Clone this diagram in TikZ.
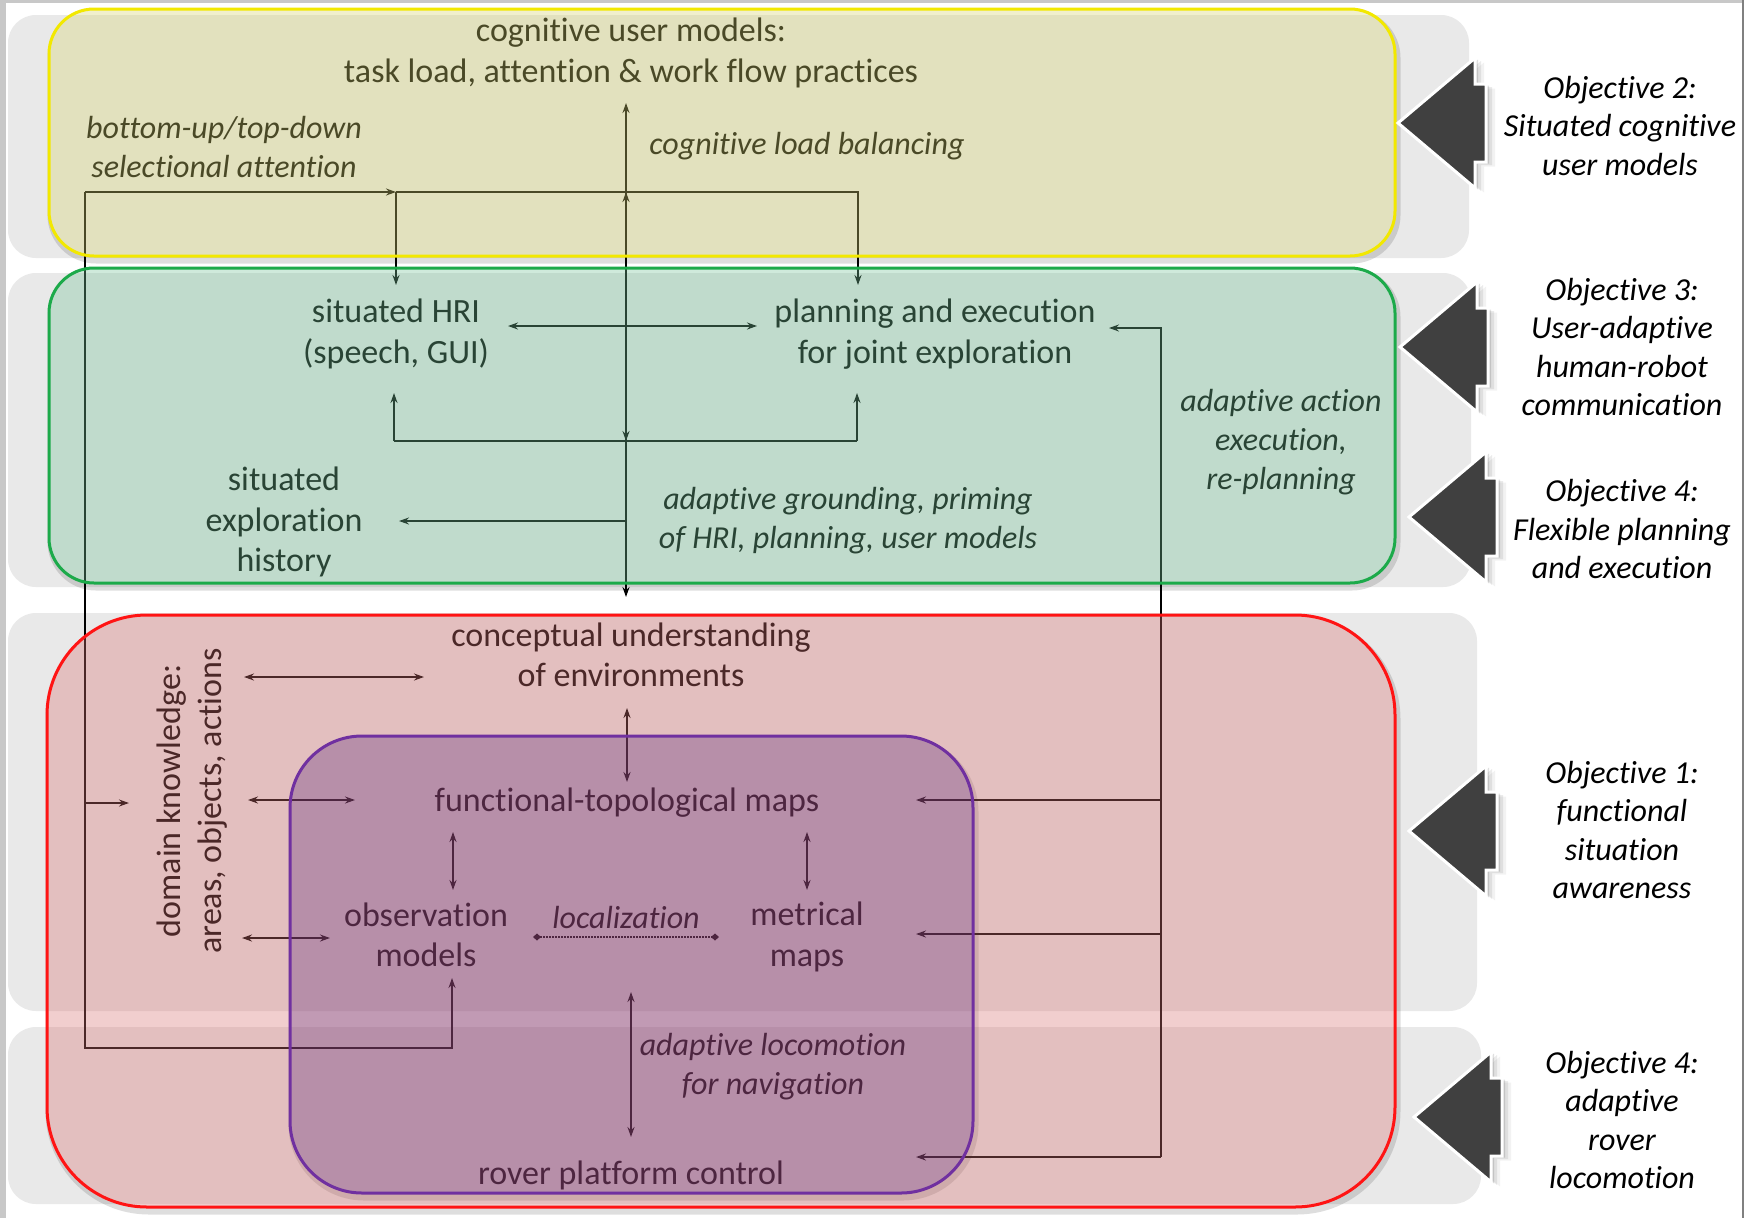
\documentclass[tikz,border=0pt]{standalone}
\usepackage{fontspec}
\setmainfont{Carlito}[Ligatures={NoCommon}]
\usetikzlibrary{arrows.meta,calc}
\definecolor{panelgray}{RGB}{233,233,233}
\definecolor{framegray}{RGB}{200,200,200}
\definecolor{yfill}{RGB}{214,211,112}
\definecolor{ydraw}{RGB}{242,232,0}
\definecolor{gfill}{RGB}{118,195,152}
\definecolor{gdraw}{RGB}{28,170,74}
\definecolor{rfill}{RGB}{217,115,115}
\definecolor{rdraw}{RGB}{255,20,20}
\definecolor{pfill}{RGB}{83,34,121}
\definecolor{pdraw}{RGB}{112,48,160}
\definecolor{arrowgray}{RGB}{64,64,64}
\newcommand\BoxShadow[5]{% x1,y1,x2,y2,radius
  \begin{scope}[even odd rule, rounded corners=#5pt]
    \clip (-20,-20) rectangle (1770,1240) (#1,#2) rectangle (#3,#4);
    \draw[black, opacity=0.13, line width=7pt] ($(#1,#2)+(2,4)$) rectangle ($(#3,#4)+(2,4)$);
  \end{scope}}
\begin{document}
\begin{tikzpicture}[x=1pt,y=-1pt,
  >={Stealth[length=10pt,width=7pt]},
  conn/.style={line width=1.6pt, black},
  mtxt/.style={font=\fontsize{34}{40.5}\selectfont, align=center, inner sep=0pt},
  itxt/.style={font=\fontsize{32}{39}\selectfont\itshape, align=center, inner sep=0pt},
  objtxt/.style={font=\fontsize{32}{38.5}\selectfont\itshape, align=center, inner sep=0pt},
  panel/.style={fill=panelgray, rounded corners=28pt},
  overlay/.style={fill opacity=0.35, line width=3pt},
  objarrow/.pic={
    \foreach \s/\op in {9/0.05,6/0.08,3/0.12}
      \fill[black, opacity=\op, shift={(\s,\s*0.5)}] (0,0) -- (77,-65) -- (77,-39) -- (88,-39) -- (88,39) -- (77,39) -- (77,65) -- cycle;
    \filldraw[fill=arrowgray, draw=white, line width=3pt, line join=miter] (0,0) -- (77,-65) -- (77,-39) -- (88,-39) -- (88,39) -- (77,39) -- (77,65) -- cycle;
  }]
\useasboundingbox (0,0) rectangle (1744,1218);
\fill[white] (0,0) rectangle (1744,1218);
\fill[framegray] (0,0) rectangle (1744,3);
\fill[framegray] (0,0) rectangle (6,1218);
\fill[gray] (1742,0) rectangle (1744,1218);

% background panels
\fill[panel] (8,15) rectangle (1469,258);
\fill[panel] (8,273) rectangle (1471,587);
\fill[panel] (8,613) rectangle (1477,1011);
\fill[panel] (8,1027) rectangle (1481,1204);

% text nodes
\node[mtxt] (cum) at (631,53) {cognitive user models:\\task load, attention \& work flow practices};
\node[itxt] (bu) at (224,147) {bottom-up/top-down\\selectional attention};
\node[itxt] (clb) at (807,146) {cognitive load balancing};
\node[mtxt] (hri) at (396,334) {situated HRI\\(speech, GUI)};
\node[mtxt] (plan) at (935,334) {planning and execution\\for joint exploration};
\node[mtxt] (hist) at (284,522) {situated\\exploration\\history};
\node[itxt] (agp) at (848,521) {adaptive grounding, priming\\of HRI, planning, user models};
\node[itxt] (aae) at (1281,442) {adaptive action\\execution,\\re-planning};
\node[mtxt] (cue) at (631,655) {conceptual understanding\\of environments};
\node[mtxt, rotate=90] (dk) at (192,801) {domain knowledge:\\areas, objects, actions};
\node[mtxt] (ftm) at (627,803) {functional-topological maps};
\node[mtxt] (obs) at (426,935) {observation\\models};
\node[itxt] (loc) at (626,917) {localization};
\node[mtxt] (met) at (807,937) {metrical\\maps};
\node[itxt] (aln) at (773,1067) {adaptive locomotion\\for navigation};
\node[mtxt] (rpc) at (631,1175) {rover platform control};

% connector coordinates
\coordinate (cTop) at (626,103);
\coordinate (cJ1) at (626,192);
\coordinate (cJ2) at (626,441);
\coordinate (cBot) at (626,597);
\coordinate (lTop) at (85,192);
\coordinate (hriTopJ) at (396,192);
\coordinate (hriIn) at (396,285);
\coordinate (planTopJ) at (858,192);
\coordinate (planIn) at (858,285);
\coordinate (lBot) at (85,1048);
\coordinate (obsJ) at (452,1048);
\coordinate (obsIn) at (452,978);
\coordinate (lDk) at (85,803);
\coordinate (dkIn) at (129,803);
\coordinate (hriR) at (508,326);
\coordinate (planL) at (757,326);
\coordinate (hriB) at (394,393);
\coordinate (hriBJ) at (394,441);
\coordinate (planB) at (857,393);
\coordinate (planBJ) at (857,441);
\coordinate (histJ) at (626,521);
\coordinate (histR) at (399,521);
\coordinate (rTop) at (1161,328);
\coordinate (planR) at (1109,328);
\coordinate (rFtm) at (1161,800);
\coordinate (ftmR) at (916,800);
\coordinate (rMet) at (1161,934);
\coordinate (metR) at (916,934);
\coordinate (rBot) at (1161,1157);
\coordinate (rpcR) at (916,1157);
\coordinate (dkA) at (244,677);
\coordinate (cueL) at (424,677);
\coordinate (dkB) at (248,800);
\coordinate (ftmL) at (355,800);
\coordinate (dkC) at (242,938);
\coordinate (obsL) at (330,938);
\coordinate (cueB) at (627,708);
\coordinate (ftmT) at (627,782);
\coordinate (ftmB1) at (453,832);
\coordinate (obsT) at (453,890);
\coordinate (ftmB2) at (807,832);
\coordinate (metT) at (807,890);
\coordinate (locL) at (533,937);
\coordinate (locR) at (719,937);
\coordinate (nav1) at (631,992);
\coordinate (nav2) at (631,1137);

% connectors
\draw[conn,->] (cJ2) -- (cJ1);
\draw[conn,->] (cJ1) -- (cTop);
\draw[conn,->] (cJ1) -- (cJ2);
\draw[conn,->] (cJ2) -- (cBot);
\draw[conn,->] (lTop) -- (hriTopJ);
\draw[conn,->] (hriTopJ) -- (hriIn);
\draw[conn,->] (hriTopJ) -- (planTopJ) -- (planIn);
\draw[conn,->] (lTop) -- (lBot) -- (obsJ) -- (obsIn);
\draw[conn,->] (lDk) -- (dkIn);
\draw[conn,<->] (hriR) -- (planL);
\draw[conn,->] (hriBJ) -- (hriB);
\draw[conn,->] (planBJ) -- (planB);
\draw[conn] (hriBJ) -- (planBJ);
\draw[conn,->] (histJ) -- (histR);
\draw[conn,->] (rBot) -- (rTop) -- (planR);
\draw[conn,->] (rFtm) -- (ftmR);
\draw[conn,->] (rMet) -- (metR);
\draw[conn,->] (rBot) -- (rpcR);
\draw[conn,<->] (dkA) -- (cueL);
\draw[conn,<->] (dkB) -- (ftmL);
\draw[conn,<->] (dkC) -- (obsL);
\draw[conn,<->] (cueB) -- (ftmT);
\draw[conn,<->] (ftmB1) -- (obsT);
\draw[conn,<->] (ftmB2) -- (metT);
\draw[line width=1.3pt, dash pattern=on 1.5pt off 1.5pt, {Diamond[length=8pt,width=7pt]}-{Diamond[length=8pt,width=7pt]}] (locL) -- (locR);
\draw[conn,<->] (nav1) -- (nav2);

% soft shadows of the coloured layers
\BoxShadow{49}{9}{1395}{256}{45}
\BoxShadow{49}{268}{1395}{583}{45}
\BoxShadow{47}{615}{1395}{1207}{100}
\BoxShadow{290}{736}{973}{1193}{72}

% translucent coloured layers
\filldraw[overlay, fill=yfill, draw=ydraw, rounded corners=45pt] (49,9) rectangle (1395,256);
\filldraw[overlay, fill=gfill, draw=gdraw, rounded corners=45pt] (49,268) rectangle (1395,583);
\filldraw[overlay, fill=rfill, draw=rdraw, rounded corners=100pt] (47,615) rectangle (1395,1207);
\filldraw[overlay, fill opacity=0.3, fill=pfill, draw=pdraw, rounded corners=72pt] (290,736) rectangle (973,1193);

% objective arrows
\pic at (1398,123) {objarrow};
\pic at (1400,347) {objarrow};
\pic at (1409,517) {objarrow};
\pic at (1409,831) {objarrow};
\pic at (1414,1117) {objarrow};

% objective texts
\node[objtxt] (o2) at (1620,126) {Objective 2:\\Situated cognitive\\user models};
\node[objtxt] (o3) at (1622,347) {Objective 3:\\User-adaptive\\human-robot\\communication};
\node[objtxt] (o4a) at (1622,529) {Objective 4:\\Flexible planning\\and execution};
\node[objtxt] (o1) at (1622,830) {Objective 1:\\functional\\situation\\awareness};
\node[objtxt] (o4b) at (1622,1120) {Objective 4:\\adaptive\\rover\\locomotion};
\end{tikzpicture}
\end{document}
